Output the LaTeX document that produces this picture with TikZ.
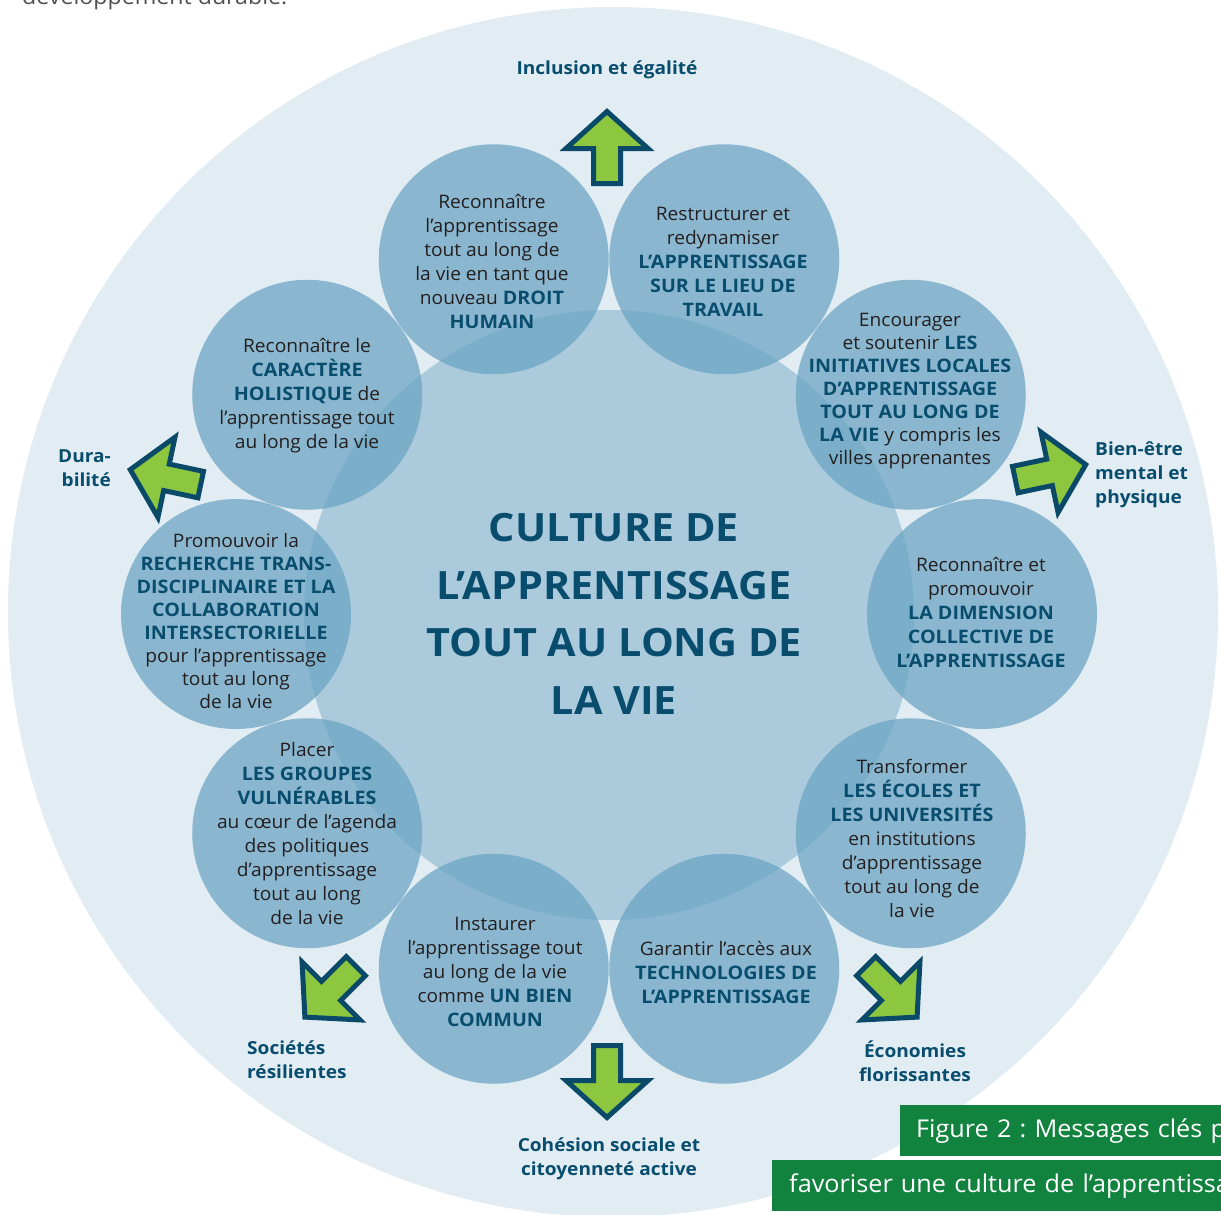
\documentclass[tikz,border=0pt]{standalone}
\usepackage{fontspec}
\setmainfont{Open Sans}[UprightFeatures={FakeStretch=1.03},BoldFeatures={FakeStretch=1.06}]
\usetikzlibrary{calc}
\definecolor{ring}{RGB}{225,236,243}
\definecolor{core}{RGB}{171,203,220}
\definecolor{disc}{RGB}{105,163,194}
\definecolor{navy}{RGB}{8,77,110}
\definecolor{body}{RGB}{35,31,32}
\definecolor{edge}{RGB}{10,74,104}
\definecolor{lime}{RGB}{141,198,63}
\definecolor{banner}{RGB}{17,131,63}
\newcommand\hl[1]{\textcolor{navy}{\bfseries #1}}
\frenchspacing
\begin{document}
\begin{tikzpicture}[x=1pt,y=1pt,
  discnode/.style={circle,minimum size=230pt,inner sep=0pt,fill=disc,fill opacity=0.72,text opacity=1},
  msg/.style={align=center,inner sep=0pt,text=body,font=\fontsize{18.6}{24}\selectfont},
  msgtight/.style={msg,font=\fontsize{18.6}{23}\selectfont},
  outlabel/.style={inner sep=0pt,text=navy,font=\fontsize{18}{24}\selectfont\bfseries},
  title/.style={align=center,inner sep=0pt,text=navy,font=\fontsize{39}{57.5}\selectfont\bfseries},
  bannerbox/.style={fill=banner,inner sep=0pt,text=white,anchor=north west,font=\fontsize{24.5}{28}\selectfont},
  fatarrow/.pic={\filldraw[draw=edge,fill=lime,line width=5pt,miter limit=10]
     (0,35.5) -- (41,-1.5) -- (13.5,-1.5) -- (13.5,-36.5) -- (-13.5,-36.5)
     -- (-13.5,-1.5) -- (-41,-1.5) -- cycle;}
]
\useasboundingbox (0,0) rectangle (1221,-1215);
\clip (0,0) rectangle (1221,-1215);

% running text above the figure
\node[anchor=base west,inner sep=0pt,text={rgb,255:red,80;green,80;blue,80},
      font=\fontsize{22.5}{26}\selectfont] (prev) at (22,-4.5) {développement durable.};

% background ring and central disc
\fill[ring] (613,-612) circle (605);
\coordinate (o) at (609,-614);
\node[circle,minimum size=610pt,inner sep=0pt,fill=core] (core) at (609,-615) {};

% ten message discs around the centre
\foreach \k/\a in {1/108,2/72,3/36,4/0,5/-36,6/-72,7/-108,8/-144,9/180,10/144}
  \node[discnode] (c\k) at ($(o)+(\a:373)$) {};

% central title
\node[title] (head) at (614,-614) {CULTURE DE\\L’APPRENTISSAGE\\TOUT AU LONG DE\\LA VIE};

% messages
\node[msg] (t1) at (492,-261) {Reconnaître\\l’apprentissage\\tout au long de\\la vie en tant que\\nouveau \hl{DROIT}\\\hl{HUMAIN}};
\node[msg] (t2) at (723,-262) {Restructurer et\\redynamiser\\\hl{L’APPRENTISSAGE}\\\hl{SUR LE LIEU DE}\\\hl{TRAVAIL}};
\node[msgtight] (t3) at (910,-391) {Encourager\\et soutenir \hl{LES}\\\hl{INITIATIVES LOCALES}\\\hl{D’APPRENTISSAGE}\\\hl{TOUT AU LONG DE}\\\hl{LA VIE} y compris les\\villes apprenantes};
\node[msg] (t4) at (981,-612) {Reconnaître et\\promouvoir\\\hl{LA DIMENSION}\\\hl{COLLECTIVE DE}\\\hl{L’APPRENTISSAGE}};
\node[msg] (t5) at (912,-838) {Transformer\\\hl{LES ÉCOLES ET}\\\hl{LES UNIVERSITÉS}\\en institutions\\d’apprentissage\\tout au long de\\la vie};
\node[msg] (t6) at (726,-972) {Garantir l’accès aux\\\hl{TECHNOLOGIES DE}\\\hl{L’APPRENTISSAGE}};
\node[msg] (t7) at (495,-972) {Instaurer\\l’apprentissage tout\\au long de la vie\\comme \hl{UN BIEN}\\\hl{COMMUN}};
\node[msg] (t8) at (307,-834) {Placer\\\hl{LES GROUPES}\\\hl{VULNÉRABLES}\\au cœur de l’agenda\\des politiques\\d’apprentissage\\tout au long\\de la vie};
\node[msgtight] (t9) at (236,-621) {Promouvoir la\\\hl{RECHERCHE TRANS-}\\\hl{DISCIPLINAIRE ET LA}\\\hl{COLLABORATION}\\\hl{INTERSECTORIELLE}\\pour l’apprentissage\\tout au long\\de la vie};
\node[msg] (t10) at (307,-396) {Reconnaître le\\\hl{CARACTÈRE}\\\hl{HOLISTIQUE} de\\l’apprentissage tout\\au long de la vie};

% outcome arrows
\pic[rotate=0]   at (607,-147)  {fatarrow};
\pic[rotate=-78] at (1051,-472) {fatarrow};
\pic[rotate=78]  at (165,-477)  {fatarrow};
\pic[rotate=-135] at (892,-992) {fatarrow};
\pic[rotate=135] at (330,-992)  {fatarrow};
\pic[rotate=180] at (607,-1082) {fatarrow};

% outcome labels
\node[outlabel] (inc) at (607,-70) {Inclusion et égalité};
\node[outlabel,align=right,anchor=east] (dur) at (111,-468) {Dura-\\bilité};
\node[outlabel,align=left,anchor=west] (bien) at (1095,-475) {Bien-être\\mental et\\physique};
\node[outlabel,align=center] (eco) at (915,-1061) {Économies\\florissantes};
\node[outlabel,align=center] (coh) at (609,-1159) {Cohésion sociale et\\citoyenneté active};
\node[outlabel,align=left,anchor=west] (soc) at (247,-1060) {Sociétés\\résilientes};

% caption banners
\node[bannerbox,minimum height=51pt,text width=560pt,align=left] (cap1) at (900,-1105)
  {\hspace*{16pt}Figure 2 : Messages clés pour};
\node[bannerbox,minimum height=51pt,text width=760pt,align=left] (cap2) at (772,-1160)
  {\hspace*{17pt}favoriser une culture de l’apprentissage tout au long de la vie};
\end{tikzpicture}
\end{document}
